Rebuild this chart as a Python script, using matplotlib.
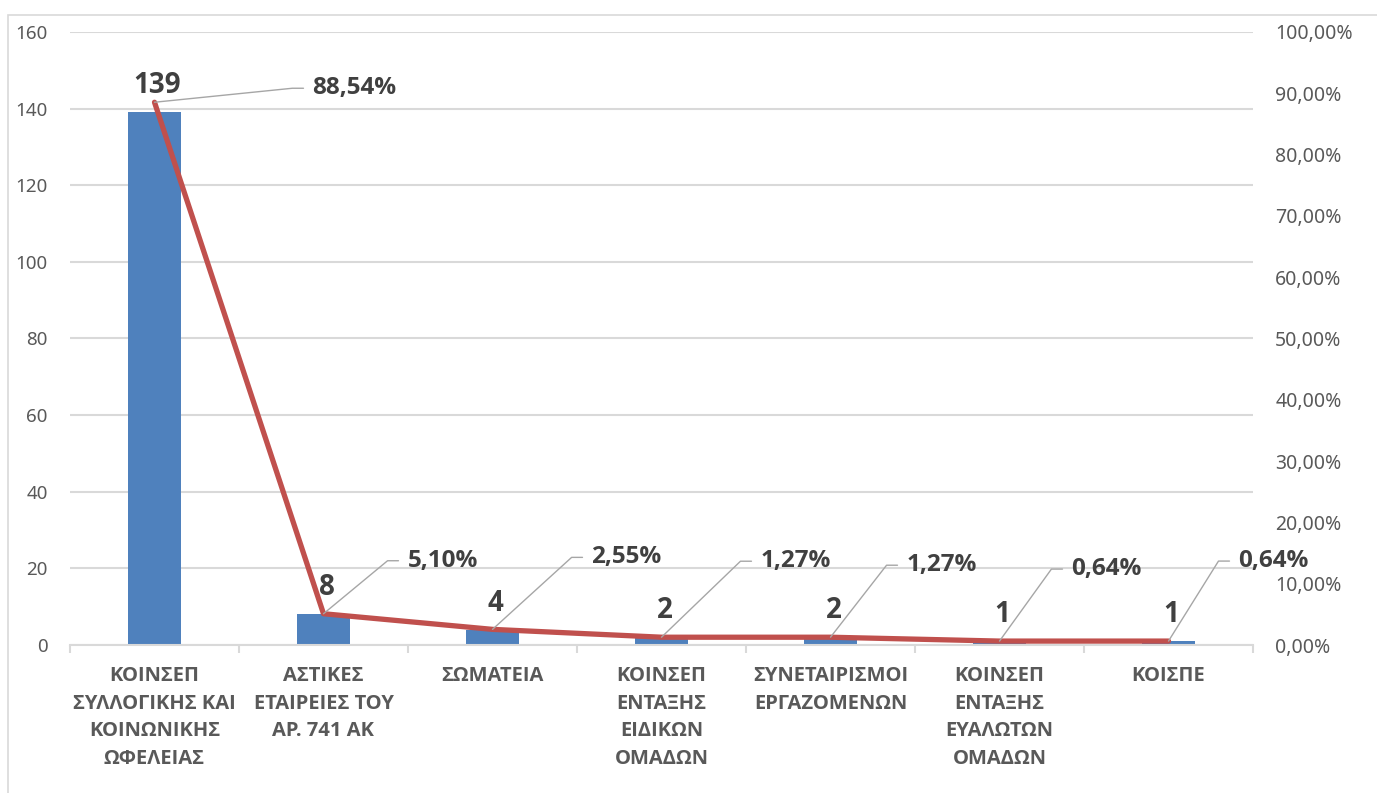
import math
import matplotlib.pyplot as plt
from matplotlib.patches import Rectangle
from matplotlib.ticker import FuncFormatter, MultipleLocator

plt.rcParams['font.family'] = ['Noto Sans', 'DejaVu Sans']
BOLD_FONT = ['Open Sans', 'Liberation Sans', 'DejaVu Sans']

categories = [
    'ΚΟΙΝΣΕΠ\nΣΥΛΛΟΓΙΚΗΣ ΚΑΙ\nΚΟΙΝΩΝΙΚΗΣ\nΩΦΕΛΕΙΑΣ',
    'ΑΣΤΙΚΕΣ\nΕΤΑΙΡΕΙΕΣ ΤΟΥ\nΑΡ. 741 ΑΚ',
    'ΣΩΜΑΤΕΙΑ',
    'ΚΟΙΝΣΕΠ\nΕΝΤΑΞΗΣ\nΕΙΔΙΚΩΝ\nΟΜΑΔΩΝ',
    'ΣΥΝΕΤΑΙΡΙΣΜΟΙ\nΕΡΓΑΖΟΜΕΝΩΝ',
    'ΚΟΙΝΣΕΠ\nΕΝΤΑΞΗΣ\nΕΥΑΛΩΤΩΝ\nΟΜΑΔΩΝ',
    'ΚΟΙΣΠΕ',
]
counts = [139, 8, 4, 2, 2, 1, 1]
percents = [88.54, 5.10, 2.55, 1.27, 1.27, 0.64, 0.64]

# leader line corners for the percent labels (pixels from the point)
leader = [(138, 14), (64, 53), (79, 72), (79, 76), (56, 72), (52, 72), (50, 80)]

BLUE = '#4f81bd'
RED = '#c0504d'
GRID = '#d9d9d9'

fig = plt.figure(figsize=(13.77, 7.93), dpi=100)
ax = fig.add_axes([70 / 1377, 1 - 645 / 793, (1253 - 70) / 1377, (645 - 32) / 793])
ax2 = ax.twinx()

# outer chart border
fig.patches.append(Rectangle((8 / 1377, -0.05), 1.1, 1 - 15 / 793 + 0.05,
                             transform=fig.transFigure, fill=False,
                             edgecolor=GRID, lw=1.2))

x = list(range(len(categories)))
ax.bar(x, counts, width=0.31, color=BLUE, zorder=2)
ax2.plot(x, percents, color=RED, lw=3.8, solid_capstyle='round', zorder=3)

ax.set_xlim(-0.5, len(categories) - 0.5)
ax.set_ylim(0, 160)
ax2.set_ylim(0, 100)
ax.yaxis.set_major_locator(MultipleLocator(20))
ax2.yaxis.set_major_locator(MultipleLocator(10))
ax2.yaxis.set_major_formatter(FuncFormatter(lambda v, p: '{:.2f}%'.format(v).replace('.', ',')))

ax.grid(axis='y', color=GRID, lw=1.5, zorder=0)
ax.set_axisbelow(True)
for a in (ax, ax2):
    for s in a.spines.values():
        s.set_visible(False)
ax.spines['bottom'].set_visible(True)
ax.spines['bottom'].set_color(GRID)
ax.spines['bottom'].set_linewidth(1.5)

ax.set_xticks(x)
ax.set_xticklabels(categories, fontsize=14.5, fontweight='bold', color='#595959',
                   linespacing=1.52, family=BOLD_FONT)
ax.set_xticks([i - 0.5 for i in range(len(categories) + 1)], minor=True)
ax.tick_params(axis='x', which='major', length=0, pad=15)
ax.tick_params(axis='x', which='minor', length=6, color=GRID, width=1.5)
ax.tick_params(axis='y', length=0, pad=16, labelsize=13.5, labelcolor='#595959')
ax2.tick_params(axis='y', length=0, pad=16, labelsize=14, labelcolor='#595959')

for i, v in enumerate(counts):
    ax.annotate(str(v), (i, v), xytext=(3, 19), textcoords='offset pixels',
                ha='center', va='baseline', fontsize=20, fontweight='bold',
                family=BOLD_FONT, color='#404040', zorder=5)

for i, p in enumerate(percents):
    dx, dy = leader[i]
    ang = math.degrees(math.atan2(dy, dx))
    ax2.annotate('{:.2f}%'.format(p).replace('.', ','), (i, p),
                 xytext=(dx + 20, dy), textcoords='offset pixels',
                 ha='left', va='center', fontsize=17.5, fontweight='bold',
                 family=BOLD_FONT, color='#404040', annotation_clip=False,
                 arrowprops=dict(arrowstyle='-', color='#a6a6a6', lw=1,
                                 shrinkA=4.5, shrinkB=0,
                                 connectionstyle='angle,angleA=0,angleB={:.1f},rad=0'.format(ang)))

fig.savefig('out.png', dpi=100)
